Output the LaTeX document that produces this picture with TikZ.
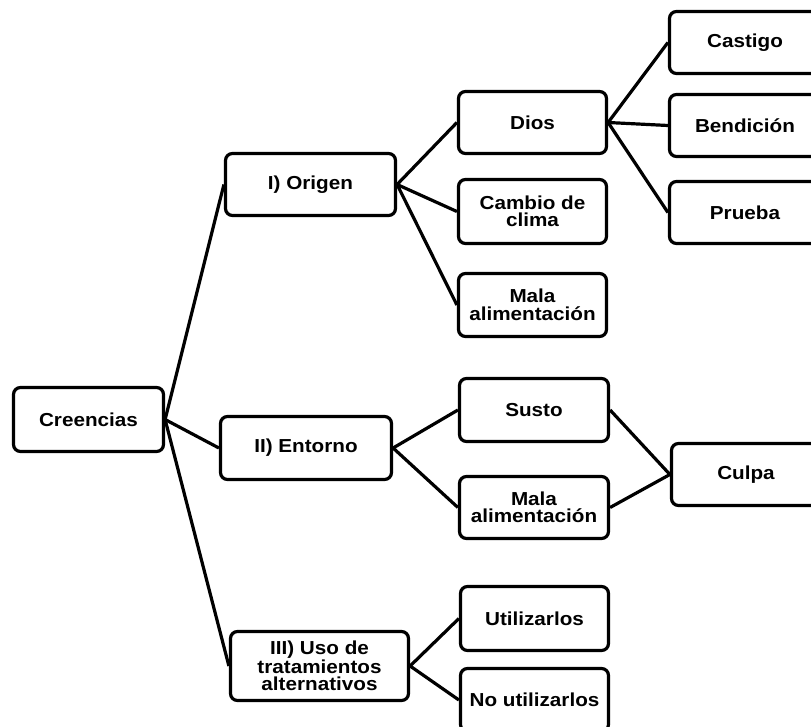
\documentclass[tikz,border=0pt]{standalone}
\usepackage{fontspec}
\setmainfont{Liberation Sans}[FakeStretch=1.1]
\newcommand\mybox[6]{%
  \node[box, minimum width={(#4-#2-3)*1pt}, minimum height={(#5-#3-3)*1pt}]
    (#1) at ({(#2+#4)/2},{(#3+#5)/2}) {#6};}
\begin{document}
\begin{tikzpicture}[x=1pt,y=-1pt,
  box/.style={draw, line width=3.2pt, rounded corners=7pt, align=center,
    inner sep=0pt, font=\bfseries\fontsize{18.8}{17.5}\selectfont},
  link/.style={line width=3.2pt}]
\useasboundingbox (0,0) rectangle (811,727);
\clip (0,0) rectangle (811,727);

% root and first level
\mybox{cre}{12}{386}{165}{453}{Creencias}
\mybox{ori}{224}{152}{397}{217}{I) Origen}
\mybox{ent}{219}{415}{393}{481}{II) Entorno}
\mybox{uso}{229}{630}{410}{702}{III) Uso de\\tratamientos\\alternativos}

% second level
\mybox{dios}{457}{90}{608}{155}{Dios}
\mybox{camb}{457}{178}{608}{245}{Cambio de\\clima}
\mybox{mala1}{457}{272}{608}{338}{Mala\\alimentación}
\mybox{susto}{458}{377}{610}{443}{Susto}
\mybox{mala2}{458}{475}{610}{540}{Mala\\alimentación}
\mybox{util}{459}{585}{610}{652}{Utilizarlos}
\mybox{noutil}{459}{667}{610}{733}{No utilizarlos}

% third level
\mybox{cast}{668}{10}{822}{75}{Castigo}
\mybox{bend}{668}{93}{822}{158}{Bendición}
\mybox{prue}{668}{180}{822}{245}{Prueba}
\mybox{culpa}{670}{442}{822}{507}{Culpa}

% connectors
\draw[link] (cre.east) -- (ori.west);
\draw[link] (cre.east) -- (ent.west);
\draw[link] (cre.east) -- (uso.west);
\draw[link] (ori.east) -- (dios.west);
\draw[link] (ori.east) -- (camb.west);
\draw[link] (ori.east) -- (mala1.west);
\draw[link] (dios.east) -- (cast.west);
\draw[link] (dios.east) -- (bend.west);
\draw[link] (dios.east) -- (prue.west);
\draw[link] (ent.east) -- (susto.west);
\draw[link] (ent.east) -- (mala2.west);
\draw[link] (susto.east) -- (culpa.west);
\draw[link] (mala2.east) -- (culpa.west);
\draw[link] (uso.east) -- (util.west);
\draw[link] (uso.east) -- (noutil.west);
\end{tikzpicture}
\end{document}
